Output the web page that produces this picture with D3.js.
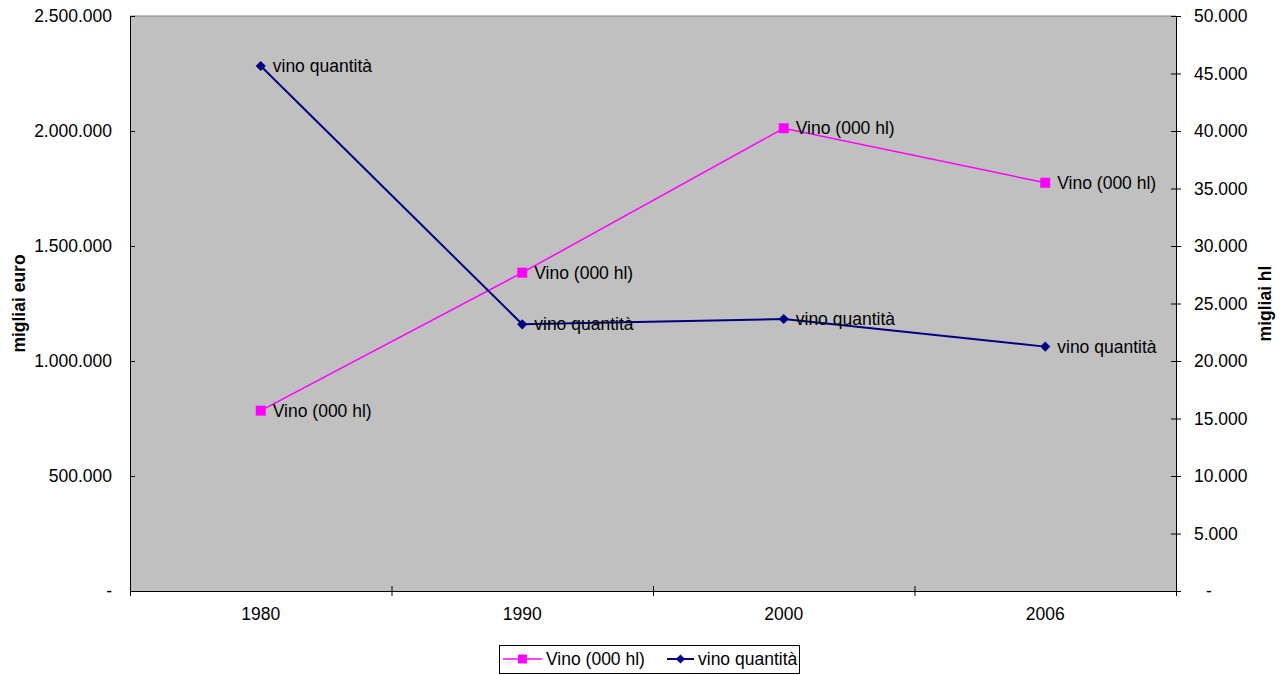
<!DOCTYPE html>
<html>
<head>
<meta charset="utf-8">
<script src="https://cdn.jsdelivr.net/npm/d3@7"></script>
<style>
  body { margin: 0; background: #fff; }
  text { font-family: "Liberation Sans", Arial, sans-serif; }
</style>
</head>
<body>
<svg id="chart" width="1281" height="675"></svg>
<script>
(function () {

    // data
    const years = ['1980', '1990', '2000', '2006'];
    const vinoHl = [784000, 1384000, 2012000, 1775000];      // left axis (migliai euro)
    const vinoQuantita = [45650, 23190, 23650, 21250];        // right axis (migliai hl)
    const leftTicks = [0, 500000, 1000000, 1500000, 2000000, 2500000];
    const rightTicks = [0, 5000, 10000, 15000, 20000, 25000, 30000, 35000, 40000, 45000, 50000];

    const svg = d3.select('#chart');
    const m = { left: 130, right: 1176, top: 16, bottom: 591 };
    const fs = 17.5;

    const it = d3.formatLocale({ decimal: ',', thousands: '.', grouping: [3], currency: ['', ''] });
    const fmt = v => v === 0 ? '-' : it.format(',')(v);

    const x = d3.scaleBand().domain(years).range([m.left, m.right]).padding(0);
    const xb = d3.scaleLinear().domain([0, years.length]).range([m.left, m.right]);
    const yl = d3.scaleLinear().domain([0, 2500000]).range([m.bottom, m.top]);
    const yr = d3.scaleLinear().domain([0, 50000]).range([m.bottom, m.top]);
    const cx = d => x(d) + x.bandwidth() / 2;

    // plot area
    svg.append('rect')
        .attr('x', m.left).attr('y', m.top)
        .attr('width', m.right - m.left).attr('height', m.bottom - m.top)
        .attr('fill', '#c0c0c0');
    svg.append('line')
        .attr('x1', m.left).attr('x2', m.right).attr('y1', m.top).attr('y2', m.top)
        .attr('stroke', '#808080');

    // axes
    function styleAxis(g) {
        g.select('.domain').attr('stroke', '#000');
        g.selectAll('.tick line').attr('stroke', '#000');
        g.selectAll('text').attr('font-size', fs).attr('fill', '#000');
    }

    svg.append('g').attr('transform', `translate(${m.left},0)`)
        .call(d3.axisLeft(yl).tickValues(leftTicks).tickFormat(fmt).tickSize(5).tickSizeOuter(0).tickPadding(13))
        .call(styleAxis)
        .call(g => g.selectAll('.tick line').attr('x2', 5));

    svg.append('g').attr('transform', `translate(${m.right},0)`)
        .call(d3.axisRight(yr).tickValues(rightTicks).tickFormat(fmt).tickSize(5).tickSizeOuter(0).tickPadding(13))
        .call(styleAxis)
        .call(g => g.selectAll('.tick line').attr('x1', -5))
        .call(g => g.selectAll('.tick text').filter(d => d === 0).attr('dx', 12));

    svg.append('g').attr('transform', `translate(0,${m.bottom})`)
        .call(d3.axisBottom(xb).tickValues(d3.range(years.length + 1)).tickFormat('').tickSize(5).tickSizeOuter(0))
        .call(styleAxis)
        .call(g => g.selectAll('.tick line').attr('y1', -5));

    svg.append('g').attr('transform', `translate(0,${m.bottom})`)
        .call(d3.axisBottom(x).tickSize(0).tickPadding(17))
        .call(styleAxis)
        .call(g => g.select('.domain').remove());

    // axis titles
    svg.append('text')
        .attr('transform', `translate(25,${(m.top + m.bottom) / 2}) rotate(-90)`)
        .attr('text-anchor', 'middle').attr('font-size', 17.5).attr('font-weight', 'bold')
        .text('migliai euro');
    svg.append('text')
        .attr('transform', `translate(1271,${(m.top + m.bottom) / 2}) rotate(-90)`)
        .attr('text-anchor', 'middle').attr('font-size', 17.5).attr('font-weight', 'bold')
        .text('migliai hl');

    // series
    const series = [
        { name: 'Vino (000 hl)', values: vinoHl, y: yl, color: '#ff00ff', width: 1.5, rot: 0, size: 100 },
        { name: 'vino quantità', values: vinoQuantita, y: yr, color: '#000080', width: 2, rot: 45, size: 52 }
    ];

    series.forEach(s => {
        const pts = years.map((yr_, i) => [cx(yr_), s.y(s.values[i])]);
        svg.append('path')
            .attr('d', d3.line()(pts))
            .attr('fill', 'none').attr('stroke', s.color).attr('stroke-width', s.width);
        svg.append('g').selectAll('path').data(pts).enter().append('path')
            .attr('transform', d => `translate(${d[0]},${d[1]}) rotate(${s.rot})`)
            .attr('d', d3.symbol().type(d3.symbolSquare).size(s.size))
            .attr('fill', s.color);
        svg.append('g').selectAll('text').data(pts).enter().append('text')
            .attr('x', d => d[0] + 12).attr('y', d => d[1])
            .attr('dy', '0.35em').attr('font-size', fs).attr('fill', '#000')
            .text(s.name);
    });

    // legend
    const lg = svg.append('g');
    lg.append('rect').attr('x', 499.5).attr('y', 645.5).attr('width', 300).attr('height', 28)
        .attr('fill', '#fff').attr('stroke', '#000');
    const items = [{ s: series[0], x0: 503, w: 39, tx: 546 }, { s: series[1], x0: 667, w: 27, tx: 698 }];
    items.forEach(d => {
        lg.append('line').attr('x1', d.x0).attr('x2', d.x0 + d.w).attr('y1', 659).attr('y2', 659)
            .attr('stroke', d.s.color).attr('stroke-width', d.s.width);
        lg.append('path').attr('transform', `translate(${d.x0 + d.w / 2},659) rotate(${d.s.rot})`)
            .attr('d', d3.symbol().type(d3.symbolSquare).size(d.s.size * 0.8)).attr('fill', d.s.color);
        lg.append('text').attr('x', d.tx).attr('y', 659).attr('dy', '0.35em')
            .attr('font-size', fs).text(d.s.name);
    });

})();
</script>
</body>
</html>
